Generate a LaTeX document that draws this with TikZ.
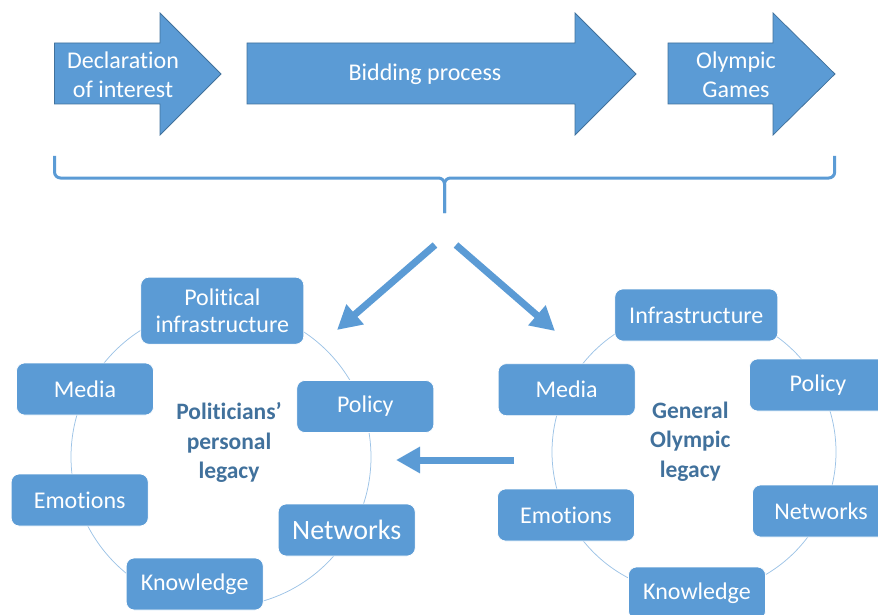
\documentclass[tikz,border=0pt]{standalone}
\usepackage{fontspec}
\setmainfont[Ligatures={TeX,NoCommon}]{Carlito}
\usetikzlibrary{arrows.meta}
\definecolor{boxblue}{HTML}{5B9BD5}
\definecolor{edgeblue}{HTML}{41719C}
\definecolor{ringblue}{HTML}{9DC3E6}

\begin{document}
\begin{tikzpicture}[x=1pt, y=-1pt,
  item/.style={shape=rectangle, rounded corners=8pt, fill=boxblue, draw=white, line width=0.75pt,
    minimum width=137pt, minimum height=52pt, text=white, align=center,
    font=\fontsize{24}{27}\selectfont},
  stage/.style={text=white, align=center, font=\fontsize{24}{28.7}\selectfont},
  legacy/.style={text=edgeblue, align=center, font=\fontsize{23.5}{29.5}\selectfont\bfseries},
  bigarrow/.style={draw=boxblue, line width=7pt, -{Triangle[width=25pt, length=24pt]}},
  ring/.style={draw=ringblue, line width=0.75pt}]
\useasboundingbox (0,0) rectangle (878,615);

% process arrows
\filldraw[fill=boxblue, draw=edgeblue, line width=0.75pt] (54.5,43) -- (160,43) -- (160,13) -- (221,74) -- (160,135) -- (160,104) -- (54.5,104) -- cycle;
\filldraw[fill=boxblue, draw=edgeblue, line width=0.75pt] (247,43) -- (575,43) -- (575,13) -- (636,74) -- (575,135) -- (575,104) -- (247,104) -- cycle;
\filldraw[fill=boxblue, draw=edgeblue, line width=0.75pt] (668,43) -- (773,43) -- (773,13) -- (835,74) -- (773,135) -- (773,104) -- (668,104) -- cycle;
\node[stage] (D) at (123,75) {Declaration\\of interest};
\node[stage] (B) at (425,74) {Bidding process};
\node[stage] (G) at (736,75) {Olympic\\Games};

% brace
\coordinate (BL) at (54.5,156);
\coordinate (BR) at (834.7,156);
\coordinate (BT) at (444.5,213);
\draw[boxblue, line width=3pt, rounded corners=6pt] (BL) -- (54.5,178) -- (444.5,178) -- (BT);
\draw[boxblue, line width=3pt, rounded corners=6pt] (BR) -- (834.7,178) -- (444.5,178) -- (BT);

% rings
\draw[ring] (221,457) circle[radius=150pt];
\draw[ring] (694,452) circle[radius=142pt];

% politicians' legacy
\node[item, minimum width=163pt, minimum height=67pt, font=\fontsize{24}{26.7}\selectfont] (L0) at (222.3,310.7) {Political\\infrastructure};
\node[item] (L1) at (85,389) {Media};
\node[item] (L2) at (365.3,406.5) {Policy};
\node[item] (L3) at (79.7,500) {Emotions};
\node[item, font=\fontsize{28}{30}\selectfont] (L4) at (346.7,530) {Networks};
\node[item] (L5) at (194.7,584) {Knowledge};
\node[legacy] (LC) at (229,442.7) {Politicians'\\personal\\legacy};

% general legacy
\node[item, minimum width=163pt] (R0) at (696.3,315) {Infrastructure};
\node[item] (R1) at (566.7,389.7) {Media};
\node[item] (R2) at (818,385) {Policy};
\node[item] (R3) at (566,515) {Emotions};
\node[item] (R4) at (821,511) {Networks};
\node[item] (R5) at (697,593) {Knowledge};
\node[legacy] (RC) at (690.3,441.7) {General\\Olympic\\legacy};

% flow arrows
\coordinate (SL) at (435,245);
\coordinate (EL) at (337,330);
\coordinate (SR) at (456,245);
\coordinate (ER) at (555,331);
\coordinate (SH) at (514,460);
\coordinate (EH) at (396,460);
\draw[bigarrow] (SL) -- (EL);
\draw[bigarrow] (SR) -- (ER);
\draw[bigarrow] (SH) -- (EH);
\end{tikzpicture}
\end{document}
